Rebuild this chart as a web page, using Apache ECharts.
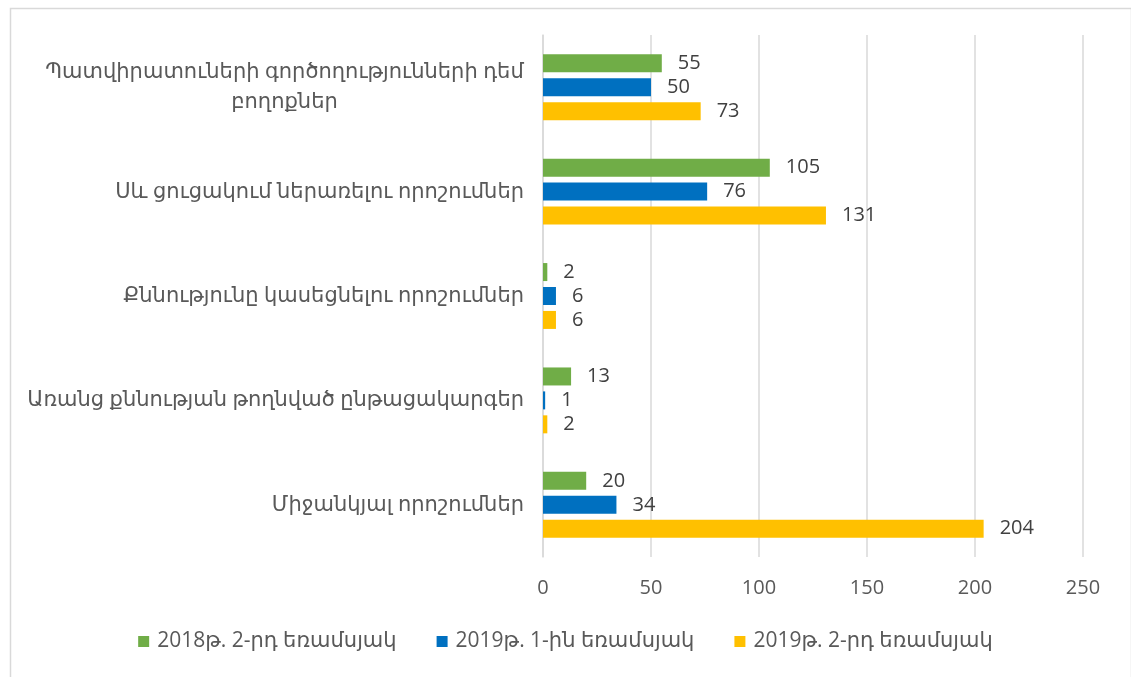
<!DOCTYPE html>
<html>
<head>
<meta charset="utf-8">
<script src="https://cdn.jsdelivr.net/npm/echarts@6/dist/echarts.min.js"></script>
<style>
  html, body { margin: 0; padding: 0; background: #fff; }
  #chart-content { width: 1131px; height: 677px; }
</style>
</head>
<body>
<div id="chart-content"></div>
<script>
  // categories, top to bottom
  let categories = [
    "Պատվիրատուների գործողությունների դեմ\nբողոքներ",
    "Սև ցուցակում ներառելու որոշումներ",
    "Քննությունը կասեցնելու որոշումներ",
    "Առանց քննության թողնված ընթացակարգեր",
    "Միջանկյալ որոշումներ",
  ];
  let seriesNames = [
    "2018թ. 2-րդ եռամսյակ",
    "2019թ. 1-ին եռամսյակ",
    "2019թ. 2-րդ եռամսյակ",
  ];
  let values2018q2 = [55, 105, 2, 13, 20];
  let values2019q1 = [50, 76, 6, 1, 34];
  let values2019q2 = [73, 131, 6, 2, 204];
  let xTicks = [0, 50, 100, 150, 200, 250];

  let colors = ["#70ad47", "#0070c0", "#ffc000"];
  let fontFamily = "'Open Sans', 'DejaVu Sans', sans-serif";
  let catFontSize = 21;

  // widest line of the wrapped labels, so the lines can be centred on each other
  function textWidth(str, size) {
    const ctx = document.createElement("canvas").getContext("2d");
    ctx.font = size + "px " + fontFamily;
    return Math.ceil(ctx.measureText(str).width);
  }

  let seriesData = [values2018q2, values2019q1, values2019q2];
  let series = Array();
  seriesData.forEach(function (d, i) {
    series.push({
      name: seriesNames[i],
      type: "bar",
      data: d,
      barWidth: 18,
      barGap: "33%",
      itemStyle: { color: colors[i] },
      label: {
        show: true,
        position: "right",
        distance: 16,
        color: "#404040",
        fontSize: 20,
        fontFamily: fontFamily,
      },
    });
  });

  const chartData = {
    animation: false,
    graphic: [
      {
        type: "rect",
        left: 8,
        top: 6,
        shape: { width: 1121, height: 700 },
        style: { fill: "none", stroke: "#d9d9d9", lineWidth: 1.5 },
        silent: true,
      },
    ],
    legend: {
      bottom: 20,
      left: "center",
      icon: "rect",
      itemWidth: 11,
      itemHeight: 11,
      itemGap: 40,
      textStyle: {
        color: "#595959",
        fontSize: 21,
        fontFamily: fontFamily,
        padding: [0, 0, 0, 3],
      },
      data: seriesNames,
    },
    grid: { left: 543, right: 48, top: 35, bottom: 120 },
    xAxis: {
      type: "value",
      min: xTicks[0],
      max: xTicks[xTicks.length - 1],
      interval: 50,
      axisLine: { show: false },
      axisTick: { show: false },
      splitLine: { lineStyle: { color: "#d9d9d9", width: 1.5 } },
      axisLabel: {
        color: "#595959",
        fontSize: 20,
        fontFamily: fontFamily,
        margin: 21,
      },
    },
    yAxis: {
      type: "category",
      inverse: true,
      data: categories,
      axisLine: { show: true, lineStyle: { color: "#d9d9d9", width: 1.5 } },
      axisTick: { show: false },
      axisLabel: {
        color: "#595959",
        fontSize: catFontSize,
        fontFamily: fontFamily,
        margin: 19,
        align: "right",
        formatter: function (v) {
          let lines = v.split("\n");
          if (lines.length === 1) return v;
          return lines.map(function (l) { return "{c|" + l + "}"; }).join("\n");
        },
        rich: {
          c: {
            width: textWidth(categories[0].split("\n")[0], catFontSize),
            align: "center",
            color: "#595959",
            fontSize: catFontSize,
            fontFamily: fontFamily,
            lineHeight: 30,
          },
        },
      },
    },
    series: series,
  };

  const myChart = echarts.init(document.getElementById("chart-content"));
  myChart.setOption(chartData);
</script>
</body>
</html>
